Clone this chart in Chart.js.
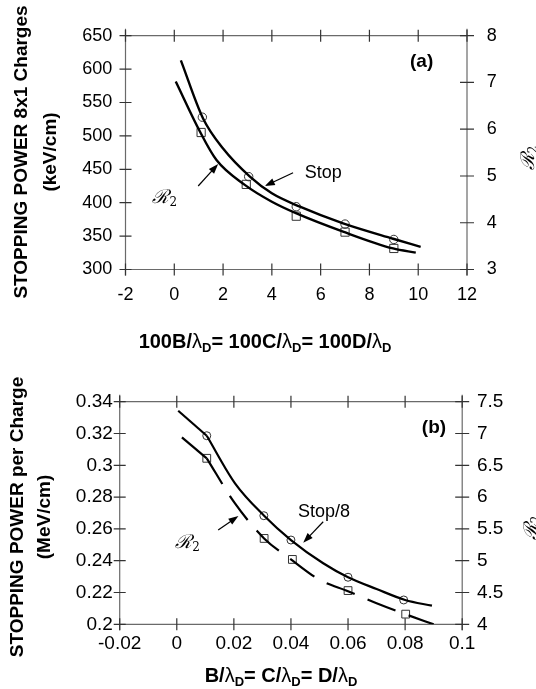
<!DOCTYPE html>
<html>
<head>
<meta charset="utf-8">
<script src="https://cdn.jsdelivr.net/npm/chart.js@4.4.0/dist/chart.umd.min.js"></script>
<style>
  html, body { margin: 0; padding: 0; background: #fff; }
  canvas { position: absolute; left: 0; }
  #chartA { top: 0; }
  #chartB { top: 356px; }
</style>
</head>
<body>
<canvas id="chartA" width="536" height="356"></canvas>
<canvas id="chartB" width="536" height="333"></canvas>
<script>
// ---- panel (a): 8x1 charges, keV/cm ----
const aStopX = [1.15, 3.05, 5, 7, 9];
const aStop = [528, 439, 394, 368, 345];
const aR2X = [1.1, 2.95, 5, 7, 9];
const aR2 = [5.93, 4.82, 4.14, 3.80, 3.45];
const aStopFitX = [0.27, 1.18, 2, 3.1, 4, 5.15, 6.92, 8.97, 10.1];
const aStopFit = [613, 526, 481, 439, 414, 394, 369, 346, 334];
const aR2FitX = [0.06, 1.05, 1.73, 2.89, 4, 5.01, 6.92, 8.97, 9.9];
const aR2Fit = [7.02, 5.95, 5.34, 4.81, 4.45, 4.20, 3.81, 3.45, 3.36];

// ---- panel (b): per charge, MeV/cm ----
const bStopX = [0.0105, 0.0305, 0.04, 0.06, 0.0795];
const bStop = [0.3186, 0.2683, 0.253, 0.2296, 0.2153];
const bR2X = [0.0105, 0.0306, 0.0405, 0.06, 0.0802];
const bR2 = [6.61, 5.35, 5.02, 4.53, 4.16];
// straight lead-in up to the first point, then the fitted curve
const bStopLeadX = [0.0005, 0.0105];
const bStopLead = [0.3343, 0.3186];
const bStopFitX = [0.0105, 0.0204, 0.0306, 0.04, 0.0513, 0.06, 0.07, 0.08, 0.0894];
const bStopFit = [0.3186, 0.2887, 0.2683, 0.253, 0.2384, 0.2296, 0.2222, 0.2153, 0.2117];
const bR2LeadX = [0.0018, 0.0105];
const bR2Lead = [6.94, 6.61];
const bR2FitX = [0.0105, 0.0204, 0.0306, 0.04, 0.05, 0.06, 0.07, 0.08, 0.09];
const bR2Fit = [6.61, 5.90, 5.35, 5.02, 4.70, 4.52, 4.33, 4.16, 4.00];

// axis ranges [min, max, step]
const aXAxis = [-2, 12, 2];
const aYAxis = [300, 650, 50];
const aY1Axis = [3, 8, 1];
const bXAxis = [-0.02, 0.1, 0.02];
const bYAxis = [0.2, 0.34, 0.02];
const bY1Axis = [4, 7.5, 0.5];

const FONT = '"Liberation Sans", Arial, sans-serif';
const pts = (xs, ys) => xs.map((x, i) => ({ x: x, y: ys[i] }));
const fmt = v => String(parseFloat(Number(v).toFixed(4)));

function axis(range, pos, pad, fitSize, size) {
    return {
        type: 'linear',
        position: pos,
        min: range[0],
        max: range[1],
        grid: { display: false, drawTicks: false },
        border: { display: false },
        ticks: {
            stepSize: range[2],
            autoSkip: false,
            maxRotation: 0,
            padding: pad,
            color: '#000',
            font: { family: FONT, size: size },
            callback: v => fmt(v)
        },
        afterFit: s => {
            if (pos === 'bottom') s.height = fitSize; else s.width = fitSize;
        }
    };
}

function line(xs, ys, axisId, lw, dash) {
    return {
        data: pts(xs, ys), yAxisID: axisId, showLine: true,
        borderColor: '#000', borderWidth: lw, borderDash: dash || [],
        pointRadius: 0, cubicInterpolationMode: 'monotone', fill: false
    };
}

function marks(xs, ys, axisId, style, r) {
    return {
        data: pts(xs, ys), yAxisID: axisId, pointStyle: style, pointRadius: r,
        borderColor: '#333', borderWidth: 1, backgroundColor: 'rgba(0,0,0,0)'
    };
}

// frame with ticks crossing the axes, as in the printed figure
const frame = {
    id: 'frame',
    beforeDatasetsDraw(chart) {
        const { ctx, chartArea: a, scales } = chart;
        ctx.save();
        ctx.strokeStyle = '#6a6a6a';
        ctx.lineWidth = 1.2;
        ctx.beginPath();
        ctx.moveTo(a.left, a.top - 7); ctx.lineTo(a.left, a.bottom + 6);
        ctx.moveTo(a.right, a.top - 7); ctx.lineTo(a.right, a.bottom + 6);
        ctx.moveTo(a.left, a.top); ctx.lineTo(a.right, a.top);
        ctx.moveTo(a.left, a.bottom); ctx.lineTo(a.right, a.bottom);
        ctx.stroke();
        ctx.strokeStyle = '#333';
        ctx.beginPath();
        scales.x.ticks.forEach(t => {
            const px = scales.x.getPixelForValue(t.value);
            ctx.moveTo(px, a.bottom - 6); ctx.lineTo(px, a.bottom + 6);
            ctx.moveTo(px, a.top - 6); ctx.lineTo(px, a.top + 6);
        });
        scales.y.ticks.forEach(t => {
            const py = scales.y.getPixelForValue(t.value);
            ctx.moveTo(a.left - 6, py); ctx.lineTo(a.left + 6, py);
        });
        scales.y1.ticks.forEach(t => {
            const py = scales.y1.getPixelForValue(t.value);
            ctx.moveTo(a.right - 7, py); ctx.lineTo(a.right + 7, py);
        });
        ctx.stroke();
        ctx.restore();
    }
};

function drawParts(ctx, parts, cx, y) {
    let w = 0;
    parts.forEach(p => { ctx.font = p.f; w += ctx.measureText(p.t).width; });
    let x = cx - w / 2;
    ctx.textAlign = 'left';
    ctx.textBaseline = 'alphabetic';
    parts.forEach(p => {
        ctx.font = p.f;
        ctx.fillText(p.t, x, y + (p.dy || 0));
        x += ctx.measureText(p.t).width;
    });
}

function drawR2(ctx, x, y, rotate) {
    ctx.save();
    ctx.translate(x, y);
    if (rotate) ctx.rotate(-Math.PI / 2);
    drawParts(ctx, [
        { t: 'ℛ', f: 'italic 19px "DejaVu Serif", serif' },
        { t: '2', f: '12px "DejaVu Serif", serif', dy: 3 }
    ], 0, 6);
    ctx.restore();
}

function arrow(ctx, x0, y0, x1, y1) {
    const ang = Math.atan2(y1 - y0, x1 - x0);
    ctx.save();
    ctx.strokeStyle = '#000';
    ctx.fillStyle = '#000';
    ctx.lineWidth = 1.2;
    ctx.beginPath();
    ctx.moveTo(x0, y0);
    ctx.lineTo(x1 - 6 * Math.cos(ang), y1 - 6 * Math.sin(ang));
    ctx.stroke();
    ctx.translate(x1, y1);
    ctx.rotate(ang);
    ctx.beginPath();
    ctx.moveTo(0, 0);
    ctx.lineTo(-10, -3.5);
    ctx.lineTo(-10, 3.5);
    ctx.closePath();
    ctx.fill();
    ctx.restore();
}

// titles, panel letter, curve labels and arrows
function notes(cfg) {
    return {
        id: 'notes',
        afterDraw(chart) {
            const { ctx, scales: { x, y } } = chart;
            const P = v => [x.getPixelForValue(v[0]), y.getPixelForValue(v[1])];
            ctx.save();
            ctx.fillStyle = '#000';
            // left title, two rotated lines
            ctx.font = 'bold 19px ' + FONT;
            ctx.textAlign = 'center';
            ctx.textBaseline = 'middle';
            cfg.yTitle.forEach((txt, i) => {
                ctx.save();
                ctx.translate(cfg.yTitleX[i], cfg.yTitleY);
                ctx.rotate(-Math.PI / 2);
                ctx.fillText(txt, 0, 0);
                ctx.restore();
            });
            // right title
            drawR2(ctx, cfg.y1TitleX, cfg.y1TitleY, true);
            // x title with subscripts
            drawParts(ctx, cfg.xTitle, cfg.xTitleX, cfg.xTitleY);
            // panel letter
            const L = P(cfg.letterAt);
            ctx.font = 'bold 19px ' + FONT;
            ctx.textAlign = 'center';
            ctx.textBaseline = 'middle';
            ctx.fillText(cfg.letter, L[0], L[1]);
            // curve labels
            const S = P(cfg.stopAt);
            ctx.font = '18px ' + FONT;
            ctx.fillText(cfg.stopLabel, S[0], S[1]);
            const R = P(cfg.r2At);
            drawR2(ctx, R[0], R[1], false);
            const a0 = P(cfg.stopArrow[0]), a1 = P(cfg.stopArrow[1]);
            arrow(ctx, a0[0], a0[1], a1[0], a1[1]);
            const r0 = P(cfg.r2Arrow[0]), r1 = P(cfg.r2Arrow[1]);
            arrow(ctx, r0[0], r0[1], r1[0], r1[1]);
            ctx.restore();
        }
    };
}

function lambdaTitle(prefixes, size) {
    const main = 'bold ' + size + 'px ' + FONT;
    const lam = size + 'px ' + FONT;
    const sub = 'bold ' + Math.round(size * 0.65) + 'px ' + FONT;
    const parts = [];
    prefixes.forEach((p, i) => {
        parts.push({ t: (i ? '= ' : '') + p + '/', f: main });
        parts.push({ t: 'λ', f: lam });
        parts.push({ t: 'D', f: sub, dy: 4 });
    });
    return parts;
}

document.addEventListener('DOMContentLoaded', () => {
    new Chart(document.getElementById('chartA'), {
        type: 'scatter',
        data: {
            datasets: [
                line(aStopFitX, aStopFit, 'y', 2.4),
                line(aR2FitX, aR2Fit, 'y1', 2.4),
                marks(aStopX, aStop, 'y', 'circle', 4.2),
                marks(aR2X, aR2, 'y1', 'rect', 5.8)
            ]
        },
        options: {
            responsive: false,
            animation: false,
            layout: { padding: { top: 35.7, left: 0, right: 0, bottom: 0 } },
            plugins: { legend: { display: false }, tooltip: { enabled: false } },
            scales: {
                x: axis(aXAxis, 'bottom', 14.7, 86.5, 18),
                y: axis(aYAxis, 'left', 13.2, 125.5, 18),
                y1: axis(aY1Axis, 'right', 19.7, 69, 18)
            }
        },
        plugins: [frame, notes({
            yTitle: ['STOPPING POWER 8x1 Charges', '(keV/cm)'],
            yTitleX: [22, 51], yTitleY: 152,
            y1TitleX: 527.7, y1TitleY: 158,
            xTitle: lambdaTitle(['100B', '100C', '100D'], 20), xTitleX: 265, xTitleY: 348,
            letter: '(a)', letterAt: [10.14, 611],
            stopLabel: 'Stop', stopAt: [6.11, 443.7],
            stopArrow: [[4.87, 444.9], [3.71, 425]],
            r2At: [-0.39, 408.5],
            r2Arrow: [[0.98, 425], [1.80, 458]]
        })]
    });

    new Chart(document.getElementById('chartB'), {
        type: 'scatter',
        data: {
            datasets: [
                line(bStopLeadX, bStopLead, 'y', 2.2),
                line(bStopFitX, bStopFit, 'y', 2.2),
                line(bR2LeadX, bR2Lead, 'y1', 2.2),
                line(bR2FitX, bR2Fit, 'y1', 2.2, [30, 14]),
                marks(bStopX, bStop, 'y', 'circle', 4),
                marks(bR2X, bR2, 'y1', 'rect', 5.5)
            ]
        },
        options: {
            responsive: false,
            animation: false,
            layout: { padding: { top: 45.7, left: 0, right: 0, bottom: 0 } },
            plugins: { legend: { display: false }, tooltip: { enabled: false } },
            scales: {
                x: axis(bXAxis, 'bottom', 8.2, 64.7, 19),
                y: axis(bYAxis, 'left', 6.9, 119.7, 19),
                y1: axis(bY1Axis, 'right', 14.8, 73.8, 19)
            }
        },
        plugins: [frame, notes({
            yTitle: ['STOPPING POWER per Charge', '(MeV/cm)'],
            yTitleX: [18, 45], yTitleY: 161,
            y1TitleX: 531, y1TitleY: 172,
            xTitle: lambdaTitle(['B', 'C', 'D'], 20), xTitleX: 281, xTitleY: 326,
            letter: '(b)', letterAt: [0.0901, 0.3239],
            stopLabel: 'Stop/8', stopAt: [0.0516, 0.2708],
            stopArrow: [[0.0513, 0.2645], [0.0443, 0.2513]],
            r2At: [0.0038, 0.252],
            r2Arrow: [[0.0145, 0.2593], [0.0216, 0.2681]]
        })]
    });
});
</script>
</body>
</html>
